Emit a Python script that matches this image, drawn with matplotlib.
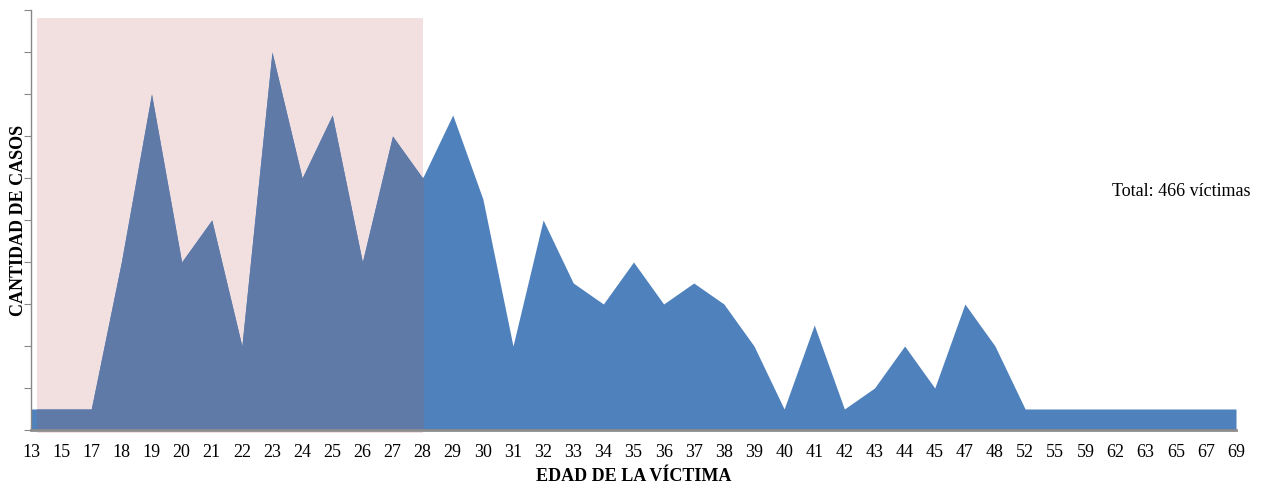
import matplotlib.pyplot as plt
from matplotlib.patches import Rectangle
import numpy as np

plt.rcParams['font.family'] = ['Liberation Serif', 'DejaVu Serif']

edades = ['13', '15', '17', '18', '19', '20', '21', '22', '23', '24', '25', '26', '27', '28',
          '29', '30', '31', '32', '33', '34', '35', '36', '37', '38', '39', '40', '41', '42',
          '43', '44', '45', '47', '48', '52', '55', '59', '62', '63', '65', '67', '69']
casos = [1, 1, 1, 8, 16, 8, 10, 4, 18, 12, 15, 8, 14, 12,
         15, 11, 4, 10, 7, 6, 8, 6, 7, 6, 4, 1, 5, 1,
         2, 4, 2, 6, 4, 1, 1, 1, 1, 1, 1, 1, 1]

x = np.arange(len(edades))

fig = plt.figure(figsize=(12.69, 4.87), dpi=100)
ax = fig.add_axes([31/1269, 1 - 430/487, (1236 - 31)/1269, 420/487])

# zona resaltada (13 a 28 años)
rect = Rectangle((0.2, -0.12), 12.8, 19.72, facecolor='#f2dfdf', edgecolor='none',
                 zorder=1, clip_on=False)
ax.add_patch(rect)

ax.fill_between(x, casos, 0, color='#4f81bd', linewidth=0, zorder=2)
dark = ax.fill_between(x, casos, 0, color='#607aa8', linewidth=0, zorder=3)
dark.set_clip_path(rect)

ax.set_xlim(0, len(edades) - 1)
ax.set_ylim(0, 20)
ax.set_xticks(x)
ax.set_xticklabels(edades, fontsize=13)
ax.tick_params(axis='x', length=0, pad=10)
ax.set_yticks(np.arange(0, 21, 2))
ax.set_yticklabels([])
ax.tick_params(axis='y', direction='out', length=5, color='#888888')

for s in ['top', 'right']:
    ax.spines[s].set_visible(False)
ax.spines['left'].set_color('#888888')
ax.spines['left'].set_linewidth(1)
ax.spines['bottom'].set_color('#8c8c8c')
ax.spines['bottom'].set_linewidth(2)
ax.spines['bottom'].set_zorder(4)

ax.set_xlabel('EDAD DE LA VÍCTIMA', fontsize=13, fontweight='bold')
ax.xaxis.set_label_coords(0.5, -38/420)
ax.set_ylabel('CANTIDAD DE CASOS', fontsize=13, fontweight='bold')
ax.yaxis.set_label_coords(-4/1205, 0.5)

ax.text(1181/1269, 1 - 191/487, 'Total: 466 víctimas', transform=fig.transFigure,
        ha='center', va='center', fontsize=13)

fig.savefig('out.png', dpi=100)
